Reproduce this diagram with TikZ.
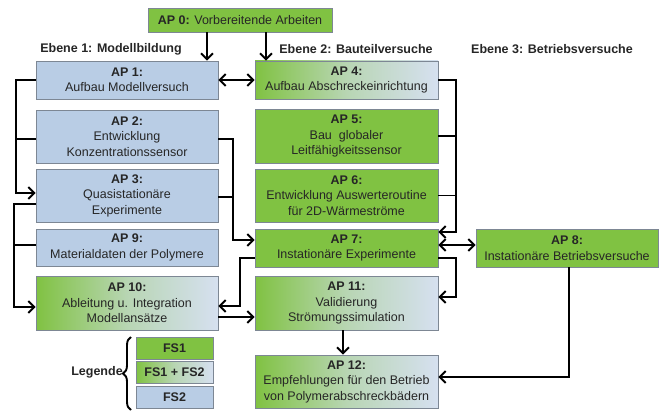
\documentclass[tikz,border=0pt]{standalone}
\usepackage{fontspec}
\setmainfont{Liberation Sans}
\usetikzlibrary{arrows.meta,decorations.pathreplacing}
\definecolor{gfill}{RGB}{128,194,66}
\definecolor{bfill}{RGB}{185,205,229}
\definecolor{lfill}{RGB}{214,224,240}
\definecolor{bord}{RGB}{125,135,148}
\definecolor{txt}{RGB}{38,38,38}
\tikzset{
  box/.style={draw=bord,line width=0.8pt,inner sep=0pt,align=center,text=txt,
    font=\fontsize{12.5}{15.5}\selectfont,minimum width=182pt},
  gbox/.style={box,fill=gfill},
  bbox/.style={box,fill=bfill},
  mbox/.style={box,left color=gfill,right color=lfill,middle color=lfill!65!gfill},
  arr/.style={line width=1.9pt,-{Straight Barb[length=6pt,width=12pt,line width=1.9pt]}},
  darr/.style={line width=1.9pt,{Straight Barb[length=6pt,width=12pt,line width=1.9pt]}-{Straight Barb[length=6pt,width=12pt,line width=1.9pt]}},
  ln/.style={line width=1.9pt},
  lvl/.style={font=\bfseries\fontsize{12.5}{14}\selectfont,text=txt}
}
\begin{document}
\begin{tikzpicture}[x=1pt,y=-1pt,line join=miter]
\useasboundingbox (0,0) rectangle (665,412);
% level labels
\node[lvl] (e1) at (111,49) {Ebene 1: Modellbildung};
\node[lvl] (e2) at (356,49) {Ebene 2: Bauteilversuche};
\node[lvl] (e3) at (552,49) {Ebene 3: Betriebsversuche};
% boxes
\node[gbox,minimum width=184pt,minimum height=24pt] (ap0) at (240,20) {\textbf{AP 0:} Vorbereitende Arbeiten};
\node[bbox,minimum height=38pt] (ap1) at (127,80) {\textbf{AP 1:}\\Aufbau Modellversuch};
\node[bbox,minimum height=53pt] (ap2) at (127,136.5) {\textbf{AP 2:}\\Entwicklung\\Konzentrationssensor};
\node[bbox,minimum height=53pt] (ap3) at (127,195.5) {\textbf{AP 3:}\\Quasistationäre\\Experimente};
\node[bbox,minimum height=37pt] (ap9) at (127,247.5) {\textbf{AP 9:}\\Materialdaten der Polymere};
\node[mbox,minimum height=54pt] (ap10) at (127,303) {\textbf{AP 10:}\\Ableitung u. Integration\\Modellansätze};
\node[mbox,minimum width=183pt,minimum height=38pt] (ap4) at (346.5,80) {\textbf{AP 4:}\\Aufbau Abschreckeinrichtung};
\node[gbox,minimum width=183pt,minimum height=54pt] (ap5) at (346.5,136) {\textbf{AP 5:}\\Bau\ \ globaler\\Leitfähigkeitssensor};
\node[gbox,minimum width=183pt,minimum height=53pt] (ap6) at (346.5,195.5) {\textbf{AP 6:}\\Entwicklung Auswerteroutine\\für 2D-Wärmeströme};
\node[gbox,minimum width=183pt,minimum height=38pt] (ap7) at (346.5,248) {\textbf{AP 7:}\\Instationäre Experimente};
\node[mbox,minimum width=183pt,minimum height=54pt] (ap11) at (346.5,303) {\textbf{AP 11:}\\Validierung\\Strömungssimulation};
\node[mbox,minimum width=183pt,minimum height=53pt] (ap12) at (346.5,381.5) {\textbf{AP 12:}\\Empfehlungen für den Betrieb\\von Polymerabschreckbädern};
\node[gbox,minimum height=38pt] (ap8) at (567,248) {\textbf{AP 8:}\\Instationäre Betriebsversuche};
% legend
\node[gbox,minimum width=77pt,minimum height=22pt,font=\bfseries\fontsize{12.5}{14}\selectfont] (fs1) at (174.5,348) {FS1};
\node[mbox,minimum width=77pt,minimum height=22pt,font=\bfseries\fontsize{12.5}{14}\selectfont] (fs12) at (174.5,372) {FS1 + FS2};
\node[bbox,minimum width=77pt,minimum height=22pt,font=\bfseries\fontsize{12.5}{14}\selectfont] (fs2) at (174.5,397) {FS2};
\node[lvl] (leg) at (97,372) {Legende};
\draw[ln,decorate,decoration={brace,amplitude=8pt,aspect=0.5}] (131,410) -- (131,337);
% connectors
\draw[arr] (207,0 |- ap0.south) -- (207,0 |- ap1.north);
\draw[arr] (266,0 |- ap0.south) -- (266,0 |- ap4.north);
\draw[darr] (ap1.east) -- (ap4.west);
\draw[darr] (ap7.east |- 0,245) -- (ap8.west |- 0,245);
\draw[arr] (ap4.east) -| (456,232) -- (ap7.east |- 0,232);
\draw[ln] (ap5.east) -- (456,0 |- ap5.east);
\draw[ln] (ap6.east) -- (456,0 |- ap6.east);
\draw[arr] (ap7.east |- 0,258) -| (456,297) -- (ap11.east |- 0,297);
\draw[arr] (ap7.west |- 0,258) -| (240,306) -- (ap10.east |- 0,306);
\draw[arr] (ap10.east |- 0,317) -- (ap11.west |- 0,317);
\draw[arr] (ap2.east |- 0,139) -| (233,240) -- (ap7.west |- 0,240);
\draw[ln] (ap3.east |- 0,197) -- (233,197);
\draw[arr] (343,0 |- ap11.south) -- (343,0 |- ap12.north);
\draw[arr] (569,0 |- ap8.south) |- (ap12.east |- 0,377);
\draw[arr] (ap1.west) -| (16,193) -- (ap3.west |- 0,193);
\draw[ln] (ap2.west |- 0,139) -- (16,139);
\draw[arr] (ap3.west |- 0,204) -| (14,307) -- (ap10.west |- 0,307);
\draw[ln] (ap9.west |- 0,245) -- (14,245);
\end{tikzpicture}
\end{document}
